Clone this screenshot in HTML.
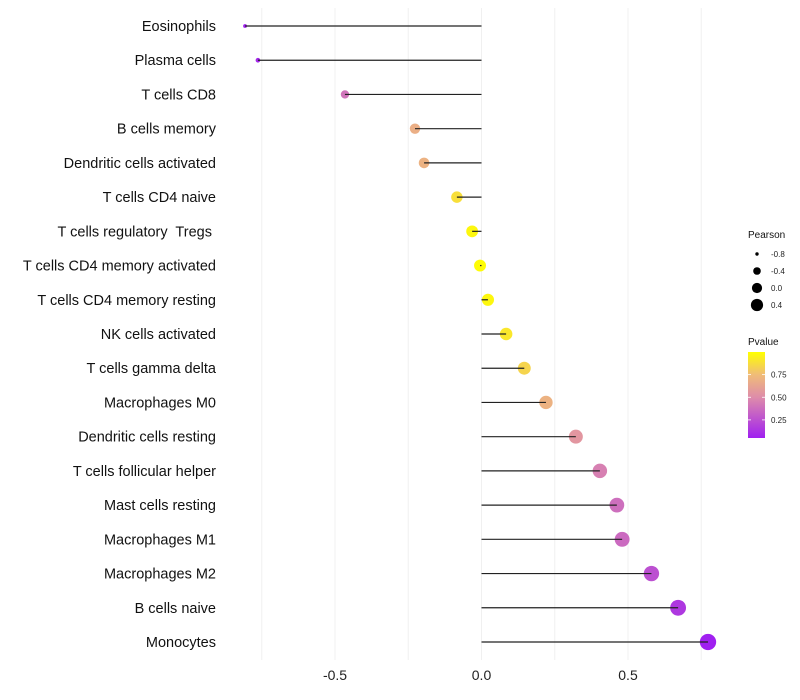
<!DOCTYPE html>
<html><head><meta charset="utf-8"><style>
html,body{margin:0;padding:0;background:#fff;}
svg{display:block;font-family:"Liberation Sans",sans-serif;}
text{white-space:pre;}
</style></head><body>
<svg id="chart" width="800" height="700"></svg>
<script>
const categories=["Eosinophils","Plasma cells","T cells CD8","B cells memory","Dendritic cells activated","T cells CD4 naive","T cells regulatory  Tregs ","T cells CD4 memory activated","T cells CD4 memory resting","NK cells activated","T cells gamma delta","Macrophages M0","Dendritic cells resting","T cells follicular helper","Mast cells resting","Macrophages M1","Macrophages M2","B cells naive","Monocytes"];
const pearson=[-0.807,-0.763,-0.466,-0.227,-0.196,-0.084,-0.032,-0.005,0.022,0.084,0.146,0.220,0.322,0.404,0.462,0.480,0.580,0.671,0.773];
const pvalues=[0.05,0.08,0.40,0.68,0.70,0.88,0.97,0.99,0.97,0.91,0.84,0.70,0.55,0.45,0.38,0.36,0.25,0.15,0.05];
const xTicks=[-0.5,0.0,0.5];
const xMinor=[-0.75,-0.25,0.25,0.75];
const sizeLegend=[-0.8,-0.4,0.0,0.4];
const colorLegendTicks=[0.25,0.50,0.75];

const NS="http://www.w3.org/2000/svg";
const svg=document.getElementById('chart');
function el(t,a,p){const e=document.createElementNS(NS,t);for(const k in a)e.setAttribute(k,a[k]);(p||svg).appendChild(e);return e;}
const xScale=v=>481.5+v*293;
const yScale=i=>26+i*(616/18);
const rScale=v=>Math.sqrt(Math.max(1,36+40*v));
const stops=[[0.05,[160,32,240]],[0.5,[222,140,170]],[0.75,[240,188,120]],[1.0,[255,255,0]]];
function color(p){
  p=Math.max(0.05,Math.min(1,p));
  for(let i=0;i<stops.length-1;i++){const a=stops[i],b=stops[i+1];
    if(p<=b[0]){const t=(p-a[0])/(b[0]-a[0]);
      return 'rgb('+a[1].map((c,j)=>Math.round(c+(b[1][j]-c)*t)).join(',')+')';}}
  return 'rgb(255,255,0)';
}
xTicks.concat(xMinor).forEach(v=>{
  const g=el('line',{x1:xScale(v),x2:xScale(v),y1:8,y2:660,stroke:'#f0f0f0','stroke-width':1});
  
  
});
xTicks.forEach(v=>{
  const t=el('text',{x:xScale(v),y:680,'text-anchor':'middle','font-size':14,fill:'#222'});
  t.textContent=v.toFixed(1);
  
  
});
categories.forEach((c,i)=>{
  const y=yScale(i);
  const lab=el('text',{x:216,y:y+5,'text-anchor':'end','font-size':14.5,fill:'#111'});
  lab.textContent=c;
  
  
  const pt=el('circle',{cx:xScale(pearson[i]),cy:y,r:rScale(pearson[i]),fill:color(pvalues[i])});
  
  
  const ln=el('line',{x1:xScale(0),x2:xScale(pearson[i]),y1:y,y2:y,stroke:'#222','stroke-width':1.2});
  
  
});
const st=el('text',{x:748,y:238,'font-size':10,fill:'#111'});st.textContent='Pearson';


sizeLegend.forEach((v,i)=>{
  const y=254+i*17;
  const c=el('circle',{cx:757,cy:y,r:rScale(v)*0.85,fill:'#000'});
  
  
  const t=el('text',{x:771,y:y+3,'font-size':8,fill:'#222'});t.textContent=v.toFixed(1);
  
  
});
const ct=el('text',{x:748,y:345,'font-size':10,fill:'#111'});ct.textContent='Pvalue';


const defs=el('defs',{});
const lg=el('linearGradient',{id:'pg',x1:0,y1:1,x2:0,y2:0},defs);
stops.forEach(s=>el('stop',{offset:((s[0]-0.05)/0.95*100)+'%','stop-color':'rgb('+s[1].join(',')+')'},lg));
const cb=el('rect',{x:748,y:352,width:17,height:86,fill:'url(#pg)'});


const py=p=>438-(p-0.05)/0.95*86;
colorLegendTicks.forEach(p=>{
  el('line',{x1:748,x2:751,y1:py(p),y2:py(p),stroke:'#fff','stroke-width':0.8});
  el('line',{x1:762,x2:765,y1:py(p),y2:py(p),stroke:'#fff','stroke-width':0.8});
  const t=el('text',{x:771,y:py(p)+3,'font-size':8,fill:'#222'});t.textContent=p.toFixed(2);
  
  
});
</script>
</body></html>
